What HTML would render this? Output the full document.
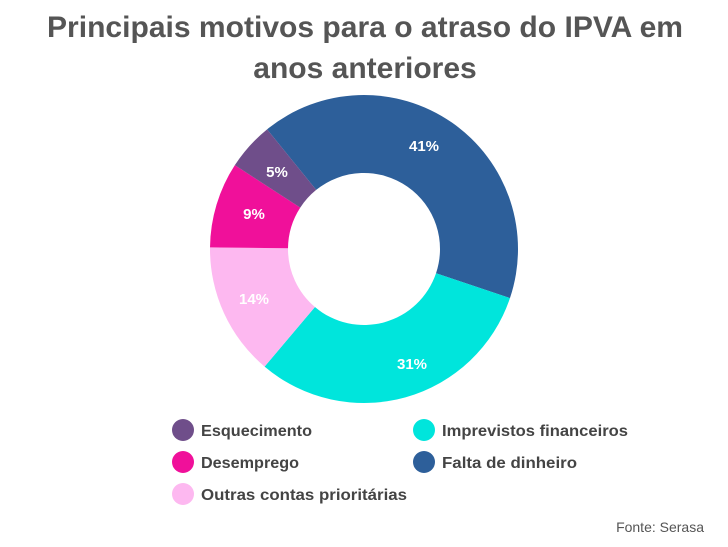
<!DOCTYPE html>
<html><head><meta charset="utf-8"><style>
body{margin:0;background:#fff;width:728px;height:542px;overflow:hidden;font-family:"Liberation Sans",sans-serif}
</style></head><body>
<svg id="s" width="728" height="542" xmlns="http://www.w3.org/2000/svg" font-family="Liberation Sans, sans-serif">
<text x="365" y="37" text-anchor="middle" font-size="30" font-weight="bold" fill="#555" textLength="636" lengthAdjust="spacingAndGlyphs">Principais motivos para o atraso do IPVA em</text>
<text x="365" y="78" text-anchor="middle" font-size="30" font-weight="bold" fill="#555">anos anteriores</text>
<g id="d"></g>
<g font-size="16" font-weight="bold" fill="#444">
<circle cx="183" cy="430" r="11" fill="#6f4e8a"/><text x="201" y="436" textLength="111" lengthAdjust="spacingAndGlyphs">Esquecimento</text>
<circle cx="183" cy="462" r="11" fill="#f0109a"/><text x="201" y="468" textLength="98" lengthAdjust="spacingAndGlyphs">Desemprego</text>
<circle cx="183" cy="494" r="11" fill="#fdb8f0"/><text x="201" y="500" textLength="206" lengthAdjust="spacingAndGlyphs">Outras contas prioritárias</text>
<circle cx="424" cy="430" r="11" fill="#00e5dc"/><text x="442" y="436" textLength="186" lengthAdjust="spacingAndGlyphs">Imprevistos financeiros</text>
<circle cx="424" cy="462" r="11" fill="#2d5f9a"/><text x="442" y="468" textLength="135" lengthAdjust="spacingAndGlyphs">Falta de dinheiro</text>
</g>
<text x="704" y="532" text-anchor="end" font-size="14" fill="#555">Fonte: Serasa</text>
<g font-size="15" font-weight="bold" fill="#fff" text-anchor="middle">
<text x="424" y="151">41%</text>
<text x="412" y="369">31%</text>
<text x="254" y="304">14%</text>
<text x="254" y="219">9%</text>
<text x="277" y="177">5%</text>
</g>
</svg>
<script>
var cx=364,cy=249,R=154,r=76,start=-39;
var d=[[41,"#2d5f9a"],[31,"#00e5dc"],[14,"#fdb8f0"],[9,"#f0109a"],[5,"#6f4e8a"]];
var g=document.getElementById("d"),h="";
function p(a,rad){a=a*Math.PI/180;return [cx+rad*Math.sin(a),cy-rad*Math.cos(a)];}
var a=start;
d.forEach(function(s){var b=a+s[0]*3.6,l=(b-a)>180?1:0;
var p1=p(a,R),p2=p(b,R),p3=p(b,r),p4=p(a,r);
h+='<path d="M'+p1+'A'+R+','+R+' 0 '+l+' 1 '+p2+'L'+p3+'A'+r+','+r+' 0 '+l+' 0 '+p4+'Z" fill="'+s[1]+'"/>';
a=b;});
g.innerHTML=h;
</script>
</body></html>
